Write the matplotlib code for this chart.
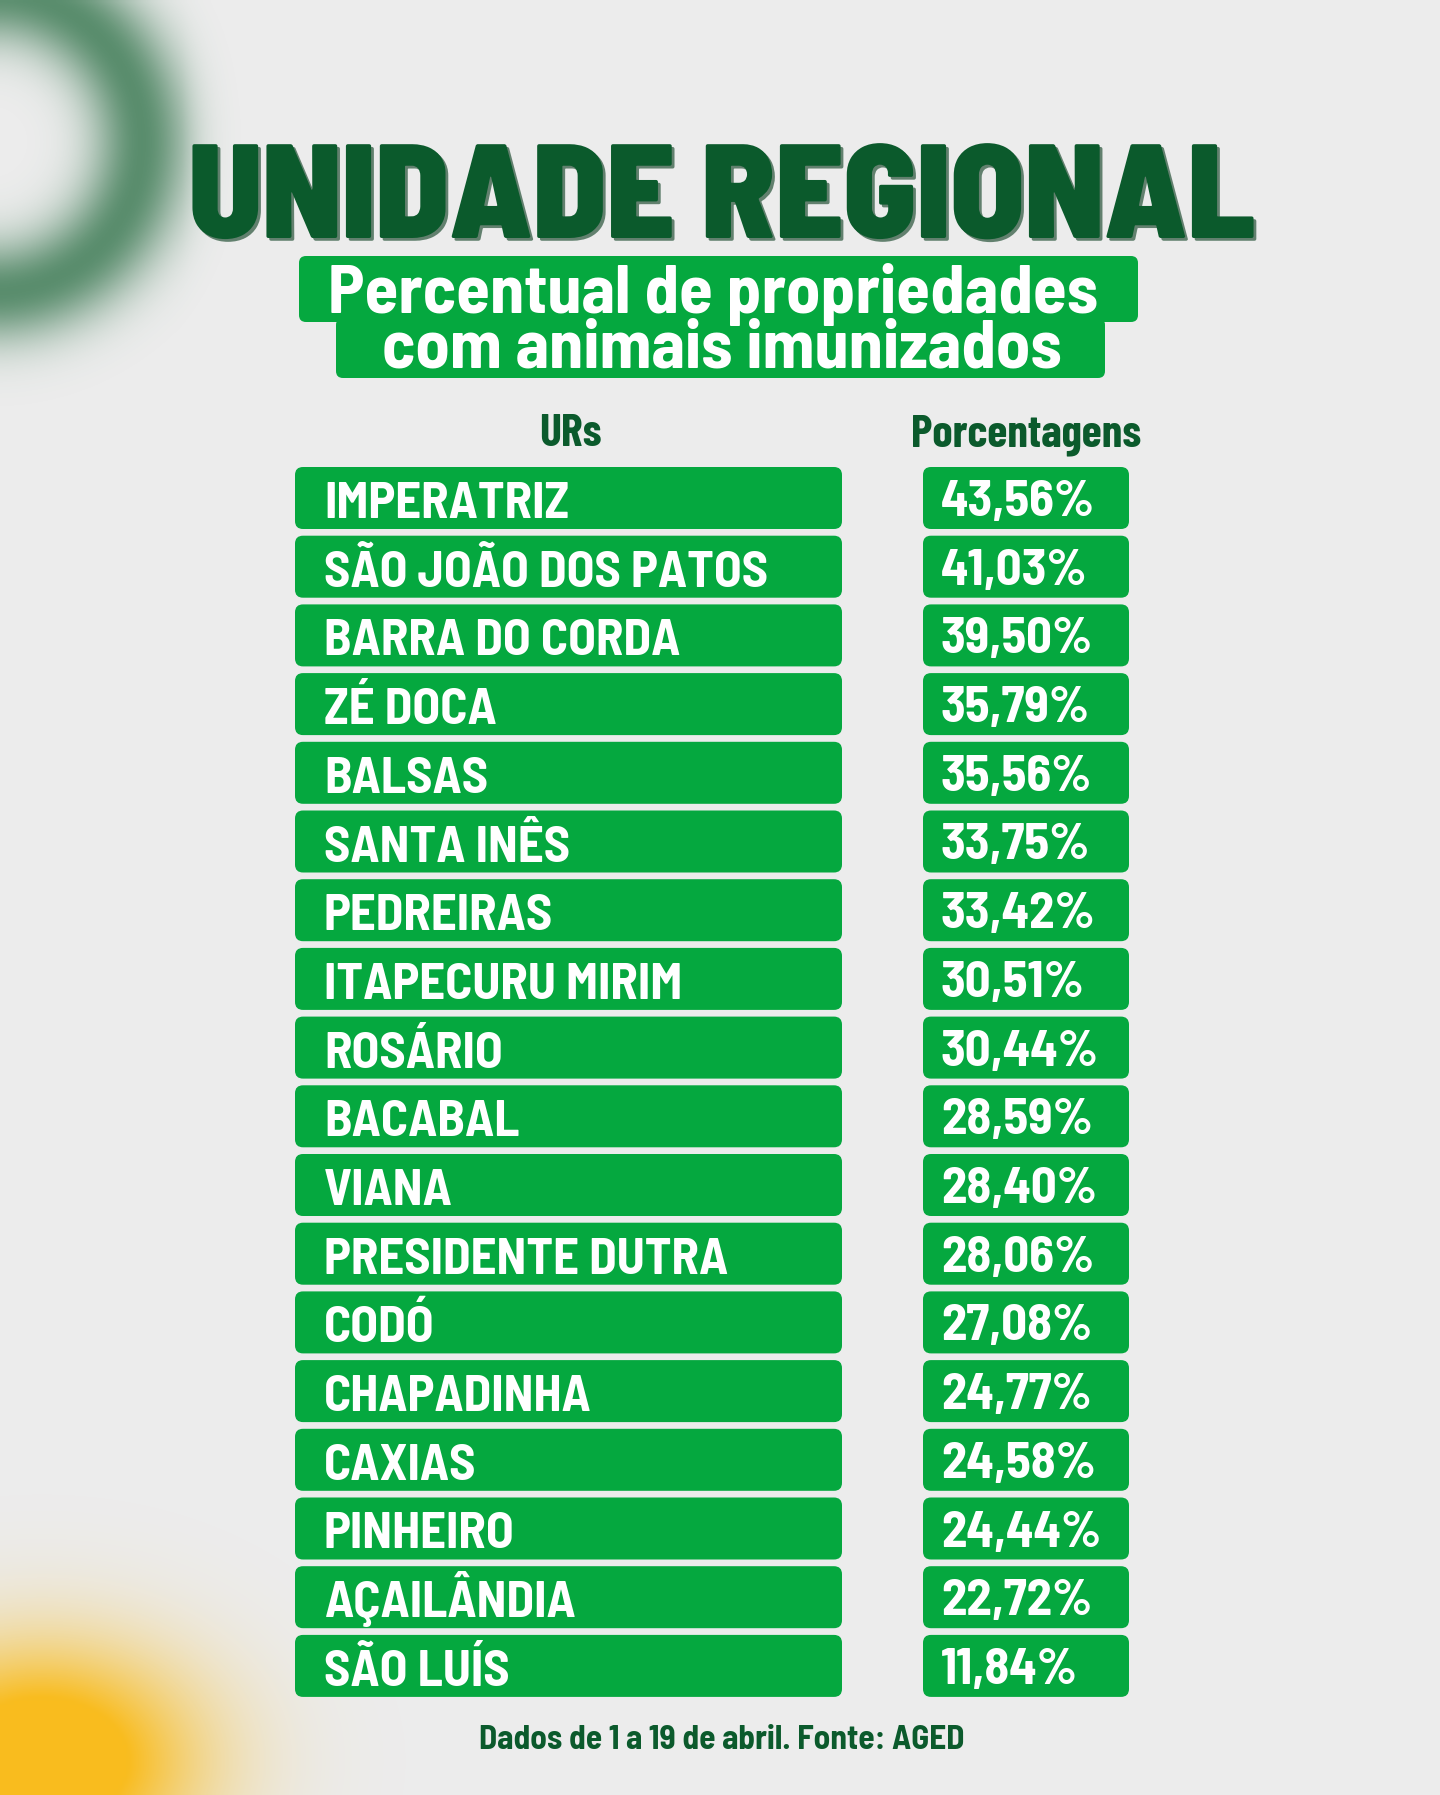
import numpy as np
import matplotlib.pyplot as plt
import matplotlib.patheffects as pe
from matplotlib.patches import FancyBboxPatch
from matplotlib import font_manager

names = ['IMPERATRIZ', 'SÃO JOÃO DOS PATOS', 'BARRA DO CORDA', 'ZÉ DOCA', 'BALSAS',
         'SANTA INÊS', 'PEDREIRAS', 'ITAPECURU MIRIM', 'ROSÁRIO', 'BACABAL', 'VIANA',
         'PRESIDENTE DUTRA', 'CODÓ', 'CHAPADINHA', 'CAXIAS', 'PINHEIRO', 'AÇAILÂNDIA',
         'SÃO LUÍS']
values = [43.56, 41.03, 39.50, 35.79, 35.56, 33.75, 33.42, 30.51, 30.44, 28.59, 28.40,
          28.06, 27.08, 24.77, 24.58, 24.44, 22.72, 11.84]

title = 'UNIDADE REGIONAL'
subtitle = ['Percentual de propriedades', 'com animais imunizados']
headers = ['URs', 'Porcentagens']
footer = 'Dados de 1 a 19 de abril. Fonte: AGED'

BG = '#ececec'
DARK = '#0b5a2c'
GREEN = '#05a83f'

avail = {f.name for f in font_manager.fontManager.ttflist}


def pick(*cands):
    for c in cands:
        if c in avail:
            return [c, 'DejaVu Sans']
    return ['DejaVu Sans']


COND = pick('Barlow Condensed')
SEMI = pick('Barlow Semi Condensed', 'Barlow Condensed')

W, H = 1440, 1795
fig = plt.figure(figsize=(W / 100, H / 100), dpi=100, facecolor=BG)
ax = fig.add_axes([0, 0, 1, 1])

# blurred decorations: green logo top-left, yellow shape bottom-left
yy, xx = np.mgrid[0:H:4, 0:W:4]
r = np.hypot(xx + 10, yy - 140)
ring = np.exp(-((r - 150) / 50) ** 2) * np.clip((260 - xx) / 80, 0, 1)
deco = np.zeros(xx.shape + (4,))
deco[..., :3] = [0.16, 0.43, 0.26]
deco[..., 3] = 0.75 * ring
ax.imshow(deco, extent=(0, W, H, 0), zorder=0, interpolation='bilinear')
blob = np.exp(-(((xx - 40) / 150) ** 2 + ((yy - 1760) / 110) ** 2))
deco2 = np.zeros(xx.shape + (4,))
deco2[..., :3] = [0.98, 0.74, 0.12]
deco2[..., 3] = np.clip(1.4 * blob, 0, 1)
ax.imshow(deco2, extent=(0, W, H, 0), zorder=0, interpolation='bilinear')

ax.set_xlim(0, W)
ax.set_ylim(H, 0)
ax.axis('off')

# title
ax.text(722, 238, title, fontsize=96.5, fontweight='black', color=DARK, family=SEMI,
        ha='center', va='baseline',
        path_effects=[pe.withSimplePatchShadow(offset=(2, -2), shadow_rgbFace='#06391b', alpha=0.6)])

# subtitle boxes
for (x0, x1, y0, y1) in [(299, 1138, 256, 322), (336, 1105, 318, 378)]:
    ax.add_patch(FancyBboxPatch((x0, y0), x1 - x0, y1 - y0,
                                boxstyle='round,pad=0,rounding_size=7',
                                fc=GREEN, ec='none', zorder=2))
ax.text(713, 313, subtitle[0], fontsize=49.5, fontweight='bold', color='white',
        family=SEMI, ha='center', va='baseline', zorder=3)
ax.text(722, 368, subtitle[1], fontsize=49.5, fontweight='bold', color='white',
        family=SEMI, ha='center', va='baseline', zorder=3)

# column headers
ax.text(570, 446, headers[0], fontsize=33, fontweight='bold', color=DARK,
        family=COND, ha='center', va='baseline')
ax.text(1026, 446, headers[1], fontsize=33, fontweight='bold', color=DARK,
        family=COND, ha='center', va='baseline')

# rows
top0, step, bh = 467, 68.7, 62
for i, (name, val) in enumerate(zip(names, values)):
    top = top0 + i * step
    ax.add_patch(FancyBboxPatch((295, top), 547, bh,
                                boxstyle='round,pad=0,rounding_size=8',
                                fc=GREEN, ec='none', zorder=2))
    ax.add_patch(FancyBboxPatch((923, top), 206, bh,
                                boxstyle='round,pad=0,rounding_size=8',
                                fc=GREEN, ec='none', zorder=2))
    ax.text(324, top + 51, name, fontsize=36.5, fontweight='bold', color='white',
            family=SEMI, ha='left', va='baseline', zorder=3)
    ax.text(941, top + 49, f'{val:.2f}%'.replace('.', ','), fontsize=36.5,
            fontweight='bold', color='white', family=SEMI, ha='left',
            va='baseline', zorder=3)

# footer
ax.text(722, 1749, footer, fontsize=24, fontweight='bold', color=DARK,
        family=SEMI, ha='center', va='baseline')

fig.savefig('out.png', dpi=100, facecolor=BG)
